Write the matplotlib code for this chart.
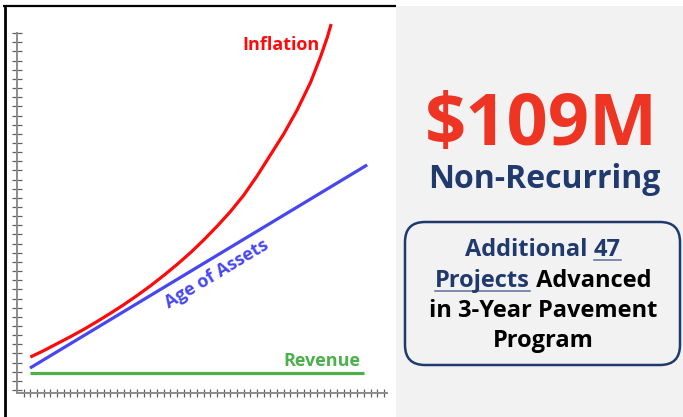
"""Cost-growth sketch chart with a $109M callout panel."""

import matplotlib

matplotlib.use("Agg")
import matplotlib.pyplot as plt
from matplotlib.patches import FancyBboxPatch, Rectangle

plt.rcParams["font.family"] = ["Open Sans", "DejaVu Sans"]

# chart units: one tick mark per unit on each axis
inflation_x = [2, 4, 6, 8, 10, 12, 14, 16, 18, 20, 22, 24, 26, 28, 30, 32, 34, 36, 38,
               40, 42, 44, 45.5, 46.5, 47.1]
inflation_y = [3.6, 4.3, 5.06, 5.82, 6.62, 7.48, 8.38, 9.32, 10.32, 11.38, 12.52, 13.72,
               15.0, 16.4, 17.9, 19.5, 21.3, 23.4, 25.7, 28.0, 30.6, 33.6, 36.4, 38.5, 40.0]
age_x = [1.95, 52.5]
age_y = [2.4, 24.6]
revenue_x = [1.95, 52.0]
revenue_y = [1.86, 1.86]
x_ticks = list(range(1, 56))
y_ticks = list(range(0, 40))

series_labels = ["Inflation", "Age of Assets", "Revenue"]
headline = "$109M"
subhead = "Non-Recurring"
box_lines = [
    [("Additional ", "navy", False), ("47", "navy", True)],
    [("Projects", "navy", True), (" Advanced", "black", False)],
    [("in 3-Year Pavement", "black", False)],
    [("Program", "black", False)],
]

RED = "#ff0a0a"
BLUE = "#4747f2"
GREEN = "#4cb04c"
NAVY = "#203a6e"
HEAD_RED = "#ee3524"

W, H = 683, 417
fig = plt.figure(figsize=(W / 100, H / 100), dpi=100)
fig.patch.set_facecolor("white")

# background layer in pixel coordinates
bg = fig.add_axes([0, 0, 1, 1])
bg.set_xlim(0, W)
bg.set_ylim(H, 0)
bg.axis("off")
bg.add_patch(Rectangle((396, 6), W - 396, H - 6, facecolor="#f2f2f2", edgecolor="none"))
bg.plot([3, 396], [5.5, 5.5], color="black", lw=1.6, solid_capstyle="butt")
bg.plot([4.5, 4.5], [5, H], color="black", lw=2.0, solid_capstyle="butt")

# chart axes placed so one x unit ~6.67 px and one y unit ~9.15 px
ux, uy = 6.67, 9.15
x0, y0 = 17, 390
xmin, xmax = 0, 56
ymin, ymax = -0.3, 40.6
left = x0 + xmin * ux
bottom = y0 - ymin * uy
top = y0 - ymax * uy
ax = fig.add_axes([left / W, (H - bottom) / H, (xmax - xmin) * ux / W, (bottom - top) / H])
ax.set_xlim(xmin, xmax)
ax.set_ylim(ymin, ymax)
ax.patch.set_alpha(0)
for side in ["top", "right"]:
    ax.spines[side].set_visible(False)
for side in ["left", "bottom"]:
    ax.spines[side].set_color("#8c8c8c")
    ax.spines[side].set_linewidth(1.4)
ax.spines["left"].set_bounds(-0.3, 39)
ax.spines["bottom"].set_bounds(0, 55.5)
ax.set_xticks(x_ticks)
ax.set_yticks(y_ticks)
ax.tick_params(axis="x", direction="inout", length=6, width=0.9, color="#606060", labelbottom=False)
ax.tick_params(axis="y", direction="inout", length=7, width=0.9, color="#606060", labelleft=False)

ax.plot(inflation_x, inflation_y, color=RED, lw=2.3, clip_on=False, solid_capstyle="butt")
ax.plot(age_x, age_y, color=BLUE, lw=2.3, solid_capstyle="butt")
ax.plot(revenue_x, revenue_y, color=GREEN, lw=2.3, solid_capstyle="butt")

lab_kw = dict(fontsize=13, fontweight="bold", ha="center", va="center")
ax.text(39.6, 37.7, series_labels[0], color=RED, **lab_kw)
ax.text(30.0, 12.7, series_labels[1], color=BLUE, rotation=31, rotation_mode="anchor", **lab_kw)
ax.text(45.7, 3.2, series_labels[2], color=GREEN, **lab_kw)

# right callout panel
bg.text(541, 145, headline, color=HEAD_RED, fontsize=52, fontweight="bold", ha="center", va="baseline")
bg.text(544, 188, subhead, color=NAVY, fontsize=23, fontweight="bold", ha="center", va="baseline")
bg.add_patch(FancyBboxPatch((405, 222), 275, 143, boxstyle="round,pad=0,rounding_size=20",
                            facecolor="none", edgecolor=NAVY, lw=1.8))

renderer = fig.canvas.get_renderer()
box_size = 17
colors = {"navy": NAVY, "black": "#000000"}


def text_width(s):
    t = bg.text(0, 0, s, fontsize=box_size, fontweight="bold")
    w = t.get_window_extent(renderer).width
    t.remove()
    return w


baselines = [256, 287, 317, 347]
for segs, base in zip(box_lines, baselines):
    x = 543 - sum(text_width(s) for s, _, _ in segs) / 2
    for s, c, under in segs:
        bg.text(x, base, s, color=colors[c], fontsize=box_size, fontweight="bold",
                ha="left", va="baseline")
        w = text_width(s)
        if under:
            bg.plot([x, x + w], [base + 3.5, base + 3.5], color="#5b6f99", lw=1.1)
        x += w

fig.savefig("out.png", dpi=100)
